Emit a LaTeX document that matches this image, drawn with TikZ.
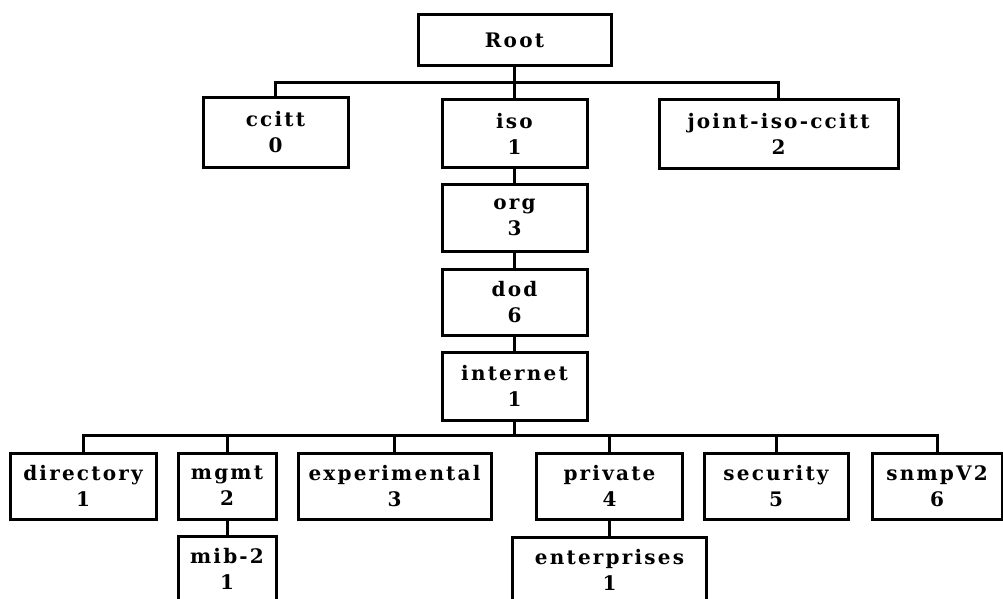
\documentclass[tikz,border=0pt]{standalone}
\usepackage{fontspec}
\newfontfamily\boxfont{DejaVu Serif}[LetterSpace=11]
\begin{document}
\begin{tikzpicture}[x=1pt,y=-1pt,
  box/.style={draw, line width=3pt, inner sep=0pt, align=center, fill=white,
    font=\boxfont\bfseries\fontsize{20}{26}\selectfont},
  link/.style={line width=3pt}]
\useasboundingbox (0,0) rectangle (1003,599);
\clip (0,0) rectangle (1003,599);
\coordinate (bus1) at (0,83);
\coordinate (bus2) at (0,435);
% nodes
\node[box, minimum width=193pt, minimum height=51pt] (root) at (514.5,40.5) {Root};
\node[box, minimum width=145pt, minimum height=69pt] (ccitt) at (275.5,132.5) {ccitt\\0};
\node[box, minimum width=145pt, minimum height=67pt] (iso) at (514.5,133.5) {iso\\1};
\node[box, minimum width=239pt, minimum height=68pt] (joint) at (778.5,134) {joint-iso-ccitt\\2};
\node[box, minimum width=145pt, minimum height=67pt] (org) at (514.5,217.5) {org\\3};
\node[box, minimum width=145pt, minimum height=66pt] (dod) at (514.5,302) {dod\\6};
\node[box, minimum width=145pt, minimum height=68pt] (internet) at (514.5,386) {internet\\1};
\node[box, minimum width=146pt, minimum height=66pt] (directory) at (83,486) {directory\\1};
\node[box, minimum width=98pt, minimum height=66pt] (mgmt) at (227,486) {mgmt\\2};
\node[box, minimum width=193pt, minimum height=66pt] (experimental) at (394.5,486) {experimental\\3};
\node[box, minimum width=146pt, minimum height=66pt] (private) at (609.5,486) {private\\4};
\node[box, minimum width=144pt, minimum height=66pt] (security) at (776,486) {security\\5};
\node[box, minimum width=130pt, minimum height=66pt] (snmp) at (937,486) {snmpV2\\6};
\node[box, minimum width=98pt, minimum height=66pt] (mib) at (227,569) {mib-2\\1};
\node[box, minimum width=194pt, minimum height=66pt] (enterprises) at (609.5,570) {enterprises\\1};
% connectors
\draw[link] (root.south) -- (iso.north);
\draw[link] (root.south) |- (ccitt.north |- bus1) -- (ccitt.north);
\draw[link] (root.south) |- (joint.north |- bus1) -- (joint.north);
\draw[link] (iso.south) -- (org.north);
\draw[link] (org.south) -- (dod.north);
\draw[link] (dod.south) -- (internet.north);
\foreach \c in {directory,mgmt,experimental,private,security,snmp}
  \draw[link] (internet.south) |- (\c.north |- bus2) -- (\c.north);
\draw[link] (mgmt.south) -- (mib.north);
\draw[link] (private.south) -- (enterprises.north);
\end{tikzpicture}
\end{document}
